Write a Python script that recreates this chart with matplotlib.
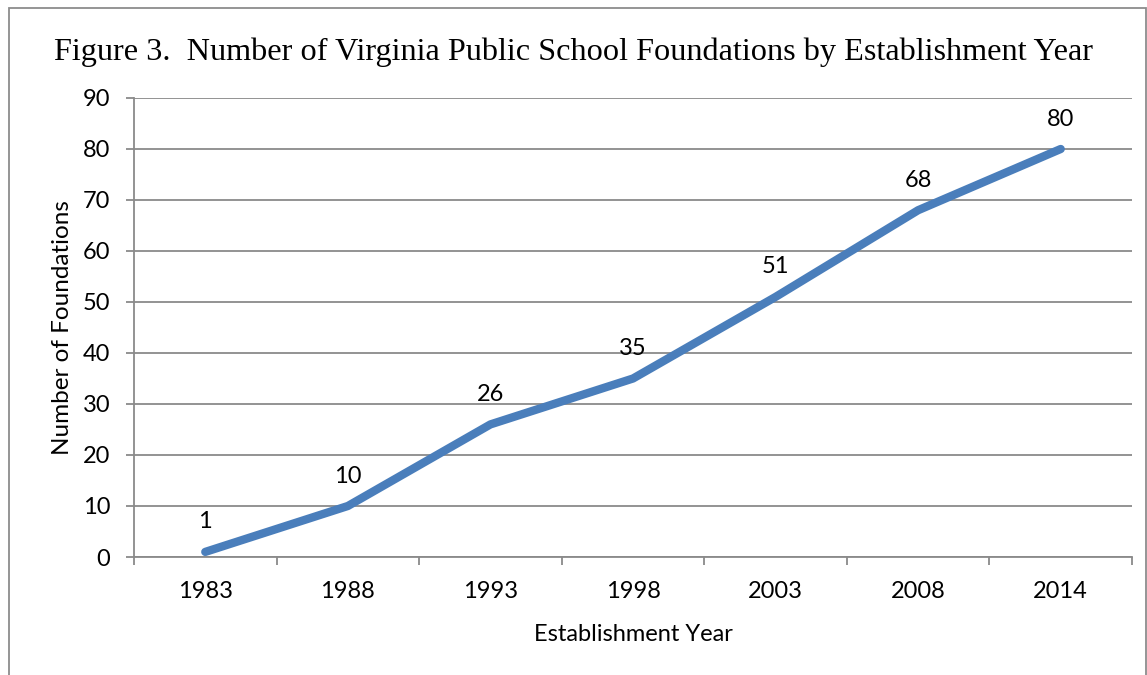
import matplotlib
matplotlib.use("Agg")
import matplotlib.pyplot as plt
from matplotlib.patches import Rectangle
import numpy as np

years = ["1983", "1988", "1993", "1998", "2003", "2008", "2014"]
foundations = [1, 10, 26, 35, 51, 68, 80]
y_ticks = [0, 10, 20, 30, 40, 50, 60, 70, 80, 90]

W, H = 1147, 675
fig = plt.figure(figsize=(W / 100, H / 100), dpi=100)
fig.patch.set_facecolor("white")

# outer frame of the chart object
fig.add_artist(Rectangle((9 / W, -0.05), (1146 - 9) / W, 1.05 - 8 / H,
                         transform=fig.transFigure, fill=False,
                         edgecolor="#8c8c8c", linewidth=1.3))

left, right, top, bottom = 134, 1132, 98, 557
ax = fig.add_axes([left / W, 1 - bottom / H, (right - left) / W, (bottom - top) / H])

grid_c = "#8a8a8a"
sans = ["Lato", "DejaVu Sans"]
fs = 17

x = np.arange(len(years))
ax.plot(x, foundations, color="#4a7ebb", linewidth=6.0,
        solid_capstyle="round", solid_joinstyle="round", zorder=3)

for xi, v in zip(x, foundations):
    ax.annotate(str(v), (xi, v), xytext=(0, 14), textcoords="offset points",
                ha="center", va="bottom", fontsize=fs, family=sans, color="black")

ax.set_xlim(-0.5, len(years) - 0.5)
ax.set_ylim(0, 90)
ax.set_yticks(y_ticks)
ax.set_yticklabels([str(t) for t in y_ticks], family=sans, fontsize=fs)
ax.yaxis.grid(True, color=grid_c, linewidth=1.3)
ax.set_axisbelow(True)

# category boundaries carry tick marks, labels sit at category centers
ax.set_xticks(np.arange(-0.5, len(years), 1.0))
ax.set_xticklabels([])
ax.set_xticks(x, minor=True)
ax.set_xticklabels(years, minor=True, family=sans, fontsize=fs)
ax.tick_params(axis="x", which="major", length=6, width=1.3, color=grid_c, direction="out")
ax.tick_params(axis="x", which="minor", length=0, pad=17)
ax.tick_params(axis="y", length=6, width=1.3, color=grid_c, direction="out", pad=11)

for s in ["top", "right"]:
    ax.spines[s].set_visible(False)
for s in ["left", "bottom"]:
    ax.spines[s].set_color(grid_c)
    ax.spines[s].set_linewidth(1.3)

ax.set_xlabel("Establishment Year", family=sans, fontsize=fs, labelpad=16)
ax.set_ylabel("Number of Foundations", family=sans, fontsize=17.5, labelpad=7)

fig.text(574 / W, 1 - 52 / H, "Figure 3.  Number of Virginia Public School Foundations by Establishment Year",
         ha="center", va="center", family=["Liberation Serif", "DejaVu Serif"], fontsize=23.2)

fig.savefig("out.png", dpi=100)
